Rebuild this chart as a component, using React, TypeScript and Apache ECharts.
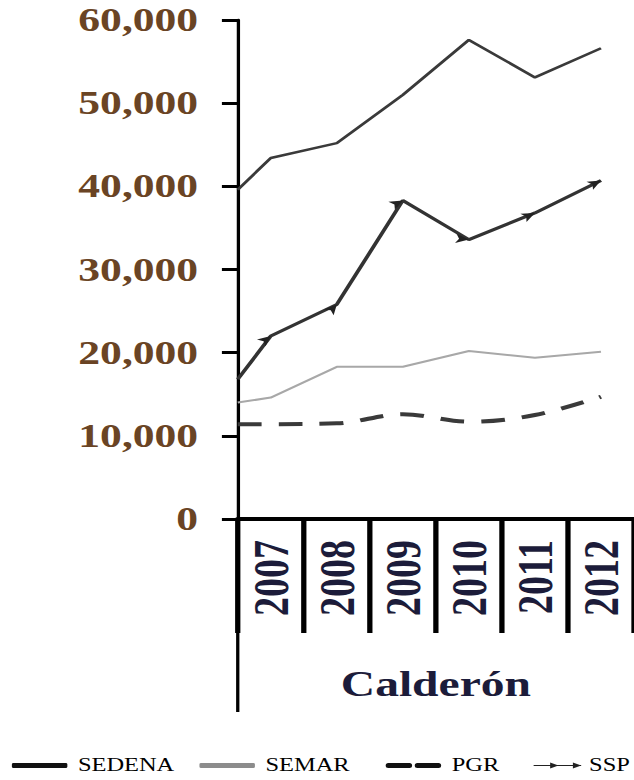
import React, { useEffect, useRef } from "react";
import * as echarts from "echarts";

// ---- data ----
const YEARS = ["2007", "2008", "2009", "2010", "2011", "2012"];
// first position is the left edge of the plot (line enters from the cropped left side)
const X_POS = [2006.5, 2007, 2008, 2009, 2010, 2011, 2012];
const SEDENA = [39600, 43400, 45200, 51000, 57600, 53100, 56600];
const SEMAR = [14000, 14600, 18300, 18300, 20200, 19400, 20100];
const PGR = [11400, 11400, 11500, 12600, 11700, 12500, 14700];
const SSP = [16800, 22000, 25800, 38300, 33600, 36800, 40700];
const Y_MIN = 0;
const Y_MAX = 60000;
const Y_STEP = 10000;
const X_TITLE = "Calderón";
const SERIES_NAMES = ["SEDENA", "SEMAR", "PGR", "SSP"];

// ---- layout (unscaled space; whole chart is stretched horizontally like the source image) ----
const SX = 634 / 480;
const W = 480;
const H = 780;
const GRID_LEFT = 180;
const GRID_RIGHT = -13;
const GRID_TOP = 20;
const GRID_BOTTOM = 261;
const SERIF = "'Liberation Serif', 'Times New Roman', serif";

const pair = (vals: number[]) => vals.map((v, i) => [X_POS[i], v]);

export default function App() {
  const ref = useRef<HTMLDivElement>(null);

  useEffect(() => {
    if (!ref.current) return;
    const chart = echarts.init(ref.current, null, { renderer: "svg" });

    const plotW = W - GRID_LEFT - GRID_RIGHT;
    const plotH = H - GRID_TOP - GRID_BOTTOM;
    const xpx = plotW / (X_POS[X_POS.length - 1] + 0.5 - X_POS[0]);
    const ypx = plotH / (Y_MAX - Y_MIN);

    const arrowRotate = (_v: any, params: any) => {
      const i = params.dataIndex;
      const a = Math.max(0, i - 1);
      const b = Math.min(SSP.length - 1, i + 1);
      const dx = (X_POS[b] - X_POS[a]) * xpx;
      const dy = (SSP[b] - SSP[a]) * ypx;
      return (Math.atan2(dy, dx) * 180) / Math.PI - 90;
    };

    const legendText = {
      fontFamily: SERIF,
      fontSize: 18.5,
      color: "#000",
      padding: [0, 0, 0, 3],
    };
    const legendBase = {
      top: 756,
      padding: 0,
      itemHeight: 5,
      itemWidth: 42,
      symbolKeepAspect: false,
      selectedMode: false,
      textStyle: legendText,
    };

    chart.setOption({
      animation: false,
      backgroundColor: "#ffffff",
      grid: {
        left: GRID_LEFT,
        right: GRID_RIGHT,
        top: GRID_TOP,
        bottom: GRID_BOTTOM,
      },
      legend: [
        {
          ...legendBase,
          left: 9,
          data: [{ name: SERIES_NAMES[0], icon: "roundRect", itemStyle: { color: "#111" } }],
        },
        {
          ...legendBase,
          left: 151,
          data: [{ name: SERIES_NAMES[1], icon: "roundRect", itemStyle: { color: "#8c8c8c" } }],
        },
        {
          ...legendBase,
          left: 292,
          data: [
            {
              name: SERIES_NAMES[2],
              icon:
                "path://M2,0 H18 A2,2 0 0 1 18,4 H2 A2,2 0 0 1 2,0 Z M24,0 H40 A2,2 0 0 1 40,4 H24 A2,2 0 0 1 24,0 Z",
              itemStyle: { color: "#111" },
            },
          ],
        },
        {
          ...legendBase,
          left: 404,
          itemHeight: 6,
          itemWidth: 36,
          textStyle: { ...legendText, padding: [0, 0, 0, 1] },
          data: [
            {
              name: SERIES_NAMES[3],
              icon: "path://M0,2.6 H46 V3.4 H0 Z M16,0.5 L24,3 L16,5.5 Z M38,0.5 L46,3 L38,5.5 Z",
              itemStyle: { color: "#222" },
            },
          ],
        },
      ],
      xAxis: [
        {
          type: "category",
          data: YEARS,
          boundaryGap: true,
          position: "bottom",
          name: X_TITLE,
          nameLocation: "middle",
          nameGap: 147,
          nameTextStyle: {
            fontFamily: SERIF,
            fontSize: 36,
            fontWeight: "bold",
            color: "#1c1c3a",
          },
          axisLine: { show: true, lineStyle: { color: "#000", width: 4 } },
          axisTick: {
            show: true,
            interval: 0,
            length: 114,
            alignWithLabel: false,
            lineStyle: { color: "#000", width: 4 },
          },
          axisLabel: {
            interval: 0,
            rotate: 90,
            margin: 21,
            fontFamily: SERIF,
            fontSize: 38,
            fontWeight: "bold",
            color: "#1c1c3a",
          },
          splitLine: { show: false },
        },
        {
          type: "value",
          min: X_POS[0],
          max: X_POS[X_POS.length - 1] + 0.5,
          show: false,
          splitLine: { show: false },
        },
      ],
      yAxis: {
        type: "value",
        min: Y_MIN,
        max: Y_MAX,
        interval: Y_STEP,
        axisLine: { show: true, lineStyle: { color: "#000", width: 2.5 } },
        axisTick: { show: true, length: 12, lineStyle: { color: "#000", width: 3 } },
        axisLabel: {
          margin: 30,
          fontFamily: SERIF,
          fontSize: 33,
          fontWeight: "bold",
          color: "#6a4424",
          formatter: (v: number) => v.toLocaleString("en-US"),
        },
        splitLine: { show: false },
      },
      series: [
        {
          name: SERIES_NAMES[0],
          type: "line",
          xAxisIndex: 1,
          data: pair(SEDENA),
          symbol: "none",
          lineStyle: { color: "#3a3a3a", width: 2.5 },
          itemStyle: { color: "#111" },
        },
        {
          name: SERIES_NAMES[1],
          type: "line",
          xAxisIndex: 1,
          data: pair(SEMAR),
          symbol: "none",
          lineStyle: { color: "#a8a8a8", width: 2 },
          itemStyle: { color: "#8c8c8c" },
        },
        {
          name: SERIES_NAMES[2],
          type: "line",
          xAxisIndex: 1,
          data: pair(PGR),
          symbol: "none",
          smooth: 0.35,
          lineStyle: { color: "#3a3a3a", width: 4, type: [18, 13] },
          itemStyle: { color: "#111" },
        },
        {
          name: SERIES_NAMES[3],
          type: "line",
          xAxisIndex: 1,
          data: pair(SSP),
          symbol: "arrow",
          showSymbol: true,
          symbolSize: (_v: any, p: any) => (p.dataIndex === 0 ? 0 : [7, 10]),
          symbolRotate: arrowRotate,
          lineStyle: { color: "#333", width: 3 },
          itemStyle: { color: "#222" },
        },
      ],
      graphic: [
        {
          type: "line",
          shape: { x1: GRID_LEFT, y1: H - GRID_BOTTOM, x2: GRID_LEFT, y2: 712 },
          style: { stroke: "#000", lineWidth: 2.5 },
          z: 10,
        },
      ],
    });

    return () => chart.dispose();
  }, []);

  return (
    <div
      style={{
        position: "absolute",
        left: 0,
        top: 0,
        width: 634,
        height: 780,
        overflow: "hidden",
        background: "#fff",
      }}
    >
      <div
        ref={ref}
        style={{
          width: W,
          height: H,
          transform: `scaleX(${SX})`,
          transformOrigin: "0 0",
        }}
      />
    </div>
  );
}
